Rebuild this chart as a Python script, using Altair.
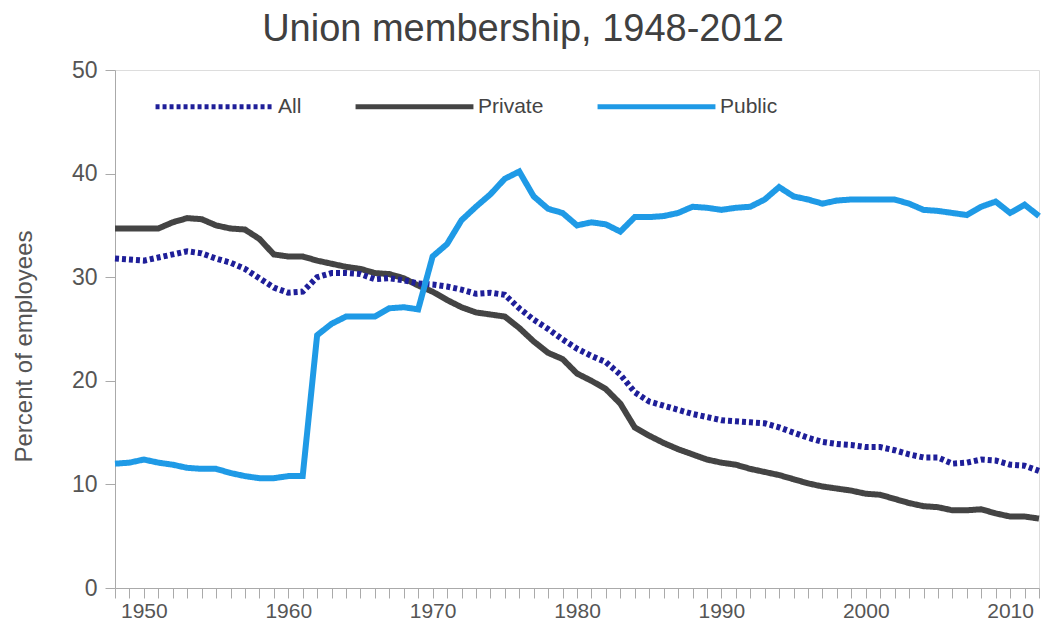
import altair as alt
import pandas as pd

years = list(range(1948, 2013))

all_vals = [31.8, 31.7, 31.6, 31.9, 32.2, 32.5, 32.3, 31.8, 31.4, 30.8,
            29.9, 29.0, 28.5, 28.6, 30.0, 30.4, 30.4, 30.3, 29.8, 29.9,
            29.7, 29.4, 29.3, 29.1, 28.8, 28.4, 28.5, 28.3, 27.0, 25.9,
            25.0, 24.0, 23.1, 22.4, 21.8, 20.6, 18.9, 18.0, 17.6, 17.2,
            16.8, 16.5, 16.2, 16.1, 16.0, 15.9, 15.5, 15.0, 14.5, 14.1,
            13.9, 13.8, 13.6, 13.6, 13.3, 12.9, 12.6, 12.6, 12.0, 12.1,
            12.4, 12.3, 11.9, 11.8, 11.3]

private_vals = [34.7, 34.7, 34.7, 34.7, 35.3, 35.7, 35.6, 35.0, 34.7, 34.6,
                33.7, 32.2, 32.0, 32.0, 31.6, 31.3, 31.0, 30.8, 30.4, 30.3,
                29.9, 29.2, 28.6, 27.8, 27.1, 26.6, 26.4, 26.2, 25.1, 23.8,
                22.7, 22.1, 20.7, 20.0, 19.2, 17.8, 15.5, 14.7, 14.0, 13.4,
                12.9, 12.4, 12.1, 11.9, 11.5, 11.2, 10.9, 10.5, 10.1, 9.8,
                9.6, 9.4, 9.1, 9.0, 8.6, 8.2, 7.9, 7.8, 7.5, 7.5,
                7.6, 7.2, 6.9, 6.9, 6.7]

public_vals = [12.0, 12.1, 12.4, 12.1, 11.9, 11.6, 11.5, 11.5, 11.1, 10.8,
               10.6, 10.6, 10.8, 10.8, 24.4, 25.5, 26.2, 26.2, 26.2, 27.0,
               27.1, 26.9, 32.0, 33.2, 35.5, 36.8, 38.0, 39.5, 40.2, 37.8,
               36.6, 36.2, 35.0, 35.3, 35.1, 34.4, 35.8, 35.8, 35.9, 36.2,
               36.8, 36.7, 36.5, 36.7, 36.8, 37.5, 38.7, 37.8, 37.5, 37.1,
               37.4, 37.5, 37.5, 37.5, 37.5, 37.1, 36.5, 36.4, 36.2, 36.0,
               36.8, 37.3, 36.2, 37.0, 35.9]

series_names = ["All", "Private", "Public"]
series_colors = ["#1f1f99", "#444444", "#1f9ae6"]
series_dashes = [[4, 3], [1, 0], [1, 0]]
x_tick_values = years
y_tick_values = [0, 10, 20, 30, 40, 50]

rows = []
for name, vals in [("Private", private_vals), ("All", all_vals), ("Public", public_vals)]:
    for yr, v in zip(years, vals):
        rows.append({"Year": yr, "Series": name, "Value": v})
df = pd.DataFrame(rows)

FONT = "Liberation Sans"

legend = alt.Legend(
    orient="none", legendX=38, legendY=-25, direction="horizontal", title=None,
    symbolType="stroke", symbolSize=13900, symbolStrokeWidth=5,
    labelFontSize=21, labelColor="#444444", labelFont=FONT,
    columnPadding=43, labelOffset=2, padding=0,
)

chart = alt.Chart(df).mark_line(strokeWidth=6).encode(
    x=alt.X("Year:Q",
            scale=alt.Scale(domain=[1948, 2012], nice=False, zero=False),
            axis=alt.Axis(values=x_tick_values, format="d", title=None,
                          labelExpr="datum.value % 10 == 0 ? datum.label : ''",
                          labelOverlap=False, labelFlush=False, grid=False,
                          labelPadding=2, labelFontSize=21)),
    y=alt.Y("Value:Q",
            scale=alt.Scale(domain=[0, 50], nice=False),
            axis=alt.Axis(values=y_tick_values, title="Percent of employees",
                          grid=False, labelPadding=8,
                          titleX=-91, titleY=276, titleAngle=270,
                          titleAlign="center", titleBaseline="middle",
                          titleFontSize=24, titleFontWeight="normal",
                          titleColor="#555555", titleFont=FONT)),
    color=alt.Color("Series:N",
                    scale=alt.Scale(domain=series_names, range=series_colors),
                    legend=legend),
    strokeDash=alt.StrokeDash("Series:N",
                              scale=alt.Scale(domain=series_names, range=series_dashes),
                              legend=legend),
).properties(
    width=924, height=518,
    title=alt.TitleParams("Union membership, 1948-2012", fontSize=38, font=FONT,
                          color="#404040", fontWeight="normal", offset=0,
                          anchor="middle", dx=-54, dy=4),
    autosize=alt.AutoSizeParams(type="none"),
    padding={"left": 107, "top": 62, "right": 4, "bottom": 36},
).configure_view(
    stroke="#dddddd", strokeWidth=1
).configure_axis(
    domainColor="#aaaaaa", tickColor="#aaaaaa", tickSize=10,
    labelColor="#555555", labelFontSize=23, labelFont=FONT,
)

chart.save("out.html", embed_options={"renderer": "svg", "actions": False})
